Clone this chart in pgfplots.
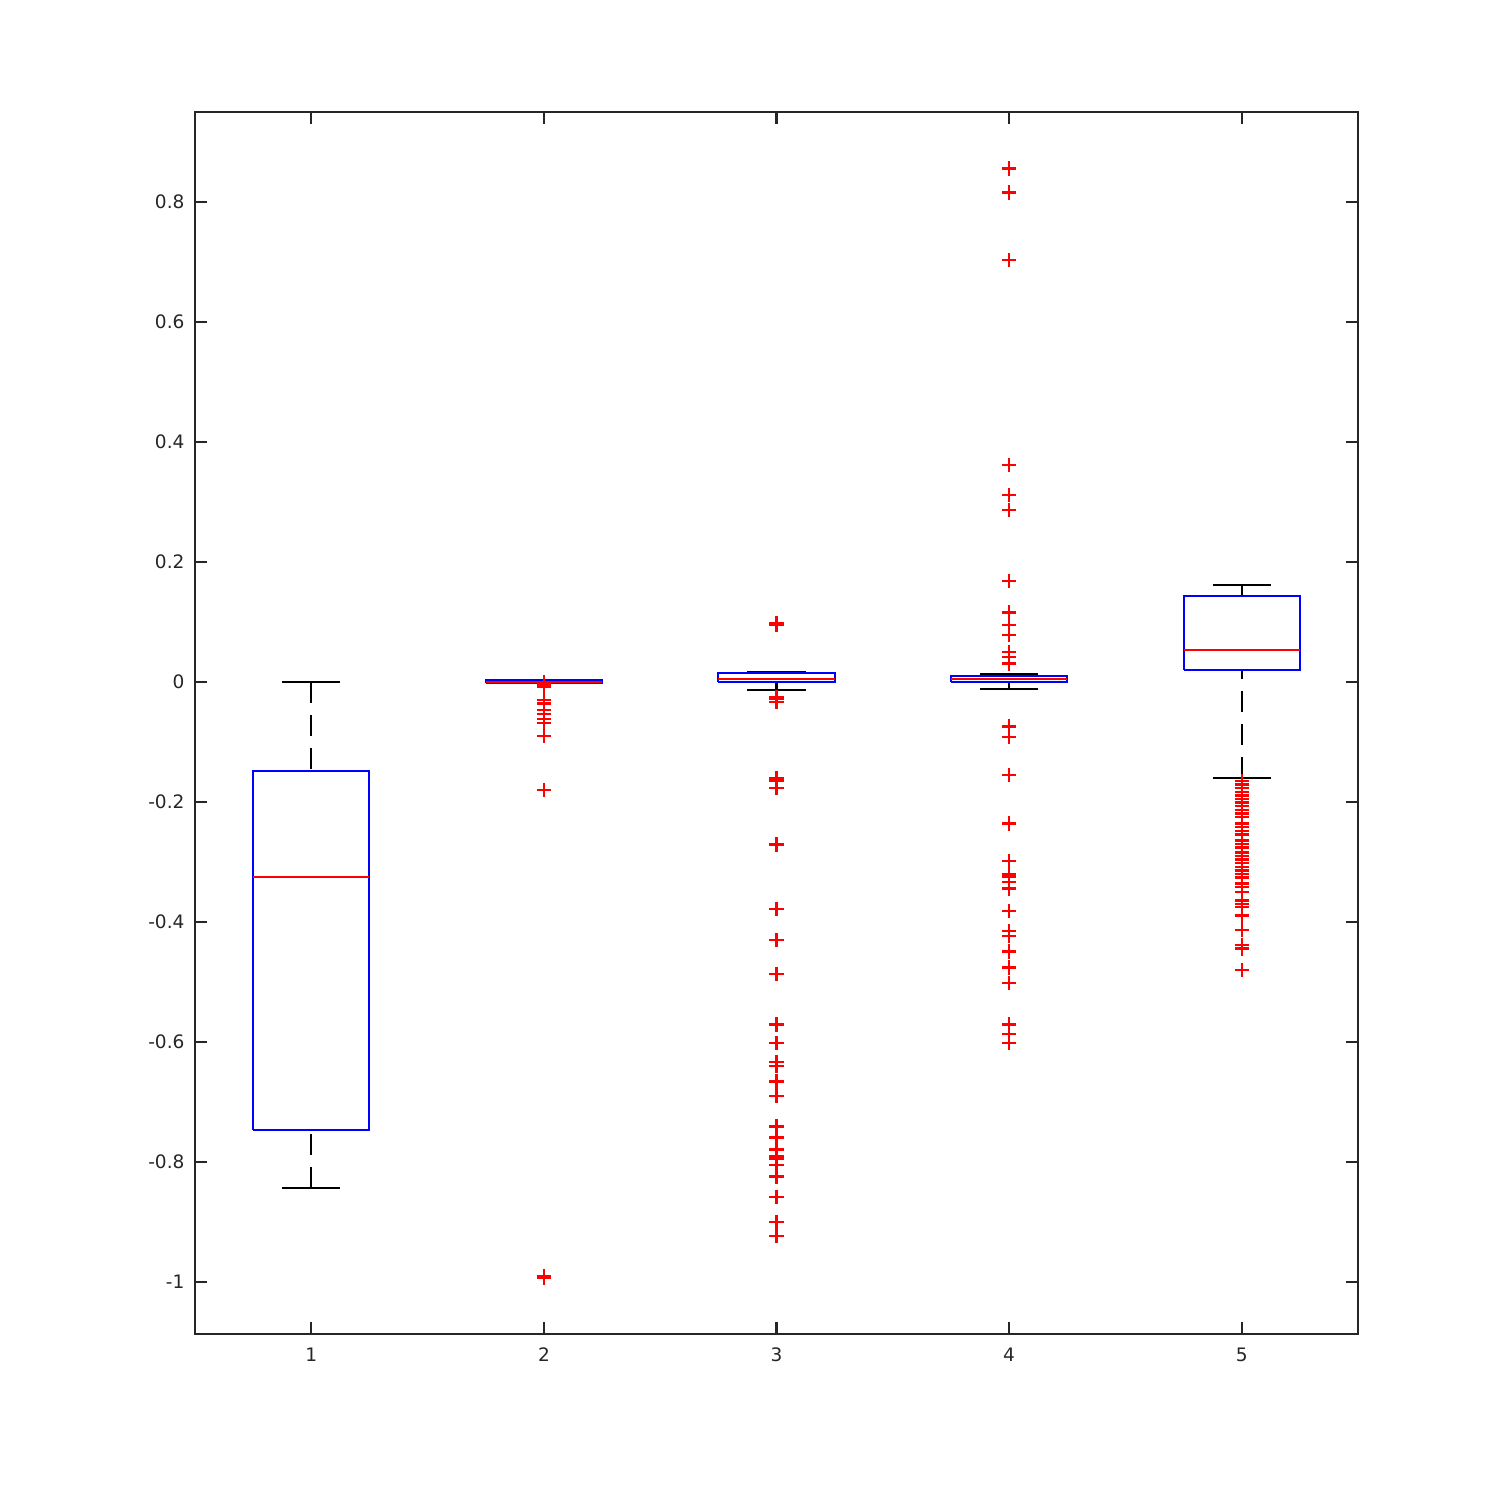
\documentclass[border=0pt]{standalone}
\usepackage{fontspec}
\setmainfont{DejaVu Sans}
\usepackage{pgfplots}
\pgfplotsset{compat=1.18}
\definecolor{axgray}{RGB}{38,38,38}
\definecolor{mblue}{RGB}{0,0,255}
\definecolor{mred}{RGB}{255,0,0}
\begin{document}
\begin{tikzpicture}
\path[use as bounding box] (-65bp,-55.33bp) rectangle (435bp,444.67bp);
\begin{axis}[
  at={(0,0)}, anchor=south west,
  scale only axis, width=387.67bp, height=407.33bp,
  xmin=0.5, xmax=5.5, ymin=-1.0867, ymax=0.95,
  xtick={1,2,3,4,5},
  ytick={-1,-0.8,-0.6,-0.4,-0.2,0,0.2,0.4,0.6,0.8},
  yticklabels={-1,-0.8,-0.6,-0.4,-0.2,0,0.2,0.4,0.6,0.8},
  xticklabels={1,2,3,4,5},
  tick align=inside, xtick pos=both, ytick pos=both,
  major tick length=4bp,
  axis line style={axgray, line width=0.7bp},
  every tick/.style={axgray, line width=0.7bp},
  ticklabel style={font=\fontsize{6.2}{7}\selectfont, text=axgray},
  xticklabel style={yshift=-1bp},
  unbounded coords=jump,
  clip=false,
]
% whiskers (dashed)
\addplot[black, line width=0.7bp, dash pattern=on 7bp off 4bp] coordinates {
(1,0) (1,-0.148) (nan,nan) (1,-0.843) (1,-0.747) (nan,nan)
(2,0.004) (2,0.0025) (nan,nan) (2,-0.002) (2,-0.001) (nan,nan)
(3,0.017) (3,0.0155) (nan,nan) (3,-0.013) (3,0.0005) (nan,nan)
(4,0.0128) (4,0.010) (nan,nan) (4,-0.012) (4,-0.0005) (nan,nan)
(5,0.162) (5,0.143) (nan,nan) (5,-0.16) (5,0.02)
};
% caps
\addplot[black, line width=0.7bp] coordinates {
(0.875,0) (1.125,0) (nan,nan) (0.875,-0.843) (1.125,-0.843) (nan,nan)
(1.875,0.004) (2.125,0.004) (nan,nan) (1.875,-0.002) (2.125,-0.002) (nan,nan)
(2.875,0.017) (3.125,0.017) (nan,nan) (2.875,-0.013) (3.125,-0.013) (nan,nan)
(3.875,0.0128) (4.125,0.0128) (nan,nan) (3.875,-0.012) (4.125,-0.012) (nan,nan)
(4.875,0.162) (5.125,0.162) (nan,nan) (4.875,-0.16) (5.125,-0.16)
};
% boxes
\addplot[mblue, line width=0.7bp] coordinates {
(0.75,-0.747) (1.25,-0.747) (1.25,-0.148) (0.75,-0.148) (0.75,-0.747) (nan,nan)
(1.75,-0.001) (2.25,-0.001) (2.25,0.0025) (1.75,0.0025) (1.75,-0.001) (nan,nan)
(2.75,0.0005) (3.25,0.0005) (3.25,0.0155) (2.75,0.0155) (2.75,0.0005) (nan,nan)
(3.75,-0.0005) (4.25,-0.0005) (4.25,0.010) (3.75,0.010) (3.75,-0.0005) (nan,nan)
(4.75,0.02) (5.25,0.02) (5.25,0.143) (4.75,0.143) (4.75,0.02)
};
% medians
\addplot[mred, line width=0.7bp] coordinates {
(0.75,-0.325) (1.25,-0.325) (nan,nan)
(1.75,0.0005) (2.25,0.0005) (nan,nan)
(2.75,0.005) (3.25,0.005) (nan,nan)
(3.75,0.0045) (4.25,0.0045) (nan,nan)
(4.75,0.053) (5.25,0.053)
};
% outliers
\addplot[only marks, mark=+, mark size=2.4bp, mred, mark options={line width=0.8bp}] table {
x y
2 0.0
2 -0.002
2 -0.005
2 -0.008
2 -0.030
2 -0.036
2 -0.047
2 -0.053
2 -0.062
2 -0.068
2 -0.090
2 -0.180
2 -0.990
2 -0.993
3 0.096
3 0.098
3 -0.025
3 -0.028
3 -0.033
3 -0.161
3 -0.164
3 -0.177
3 -0.271
3 -0.378
3 -0.430
3 -0.487
3 -0.571
3 -0.602
3 -0.633
3 -0.640
3 -0.666
3 -0.690
3 -0.741
3 -0.759
3 -0.779
3 -0.790
3 -0.794
3 -0.805
3 -0.824
3 -0.858
3 -0.900
3 -0.923
4 0.856
4 0.816
4 0.703
4 0.362
4 0.312
4 0.287
4 0.168
4 0.116
4 0.095
4 0.078
4 0.050
4 0.042
4 0.031
4 -0.0745
4 -0.092
4 -0.155
4 -0.236
4 -0.298
4 -0.320
4 -0.324
4 -0.333
4 -0.344
4 -0.382
4 -0.415
4 -0.423
4 -0.449
4 -0.476
4 -0.502
4 -0.571
4 -0.587
4 -0.602
5 -0.165
5 -0.171
5 -0.177
5 -0.183
5 -0.189
5 -0.195
5 -0.201
5 -0.207
5 -0.213
5 -0.219
5 -0.225
5 -0.236
5 -0.242
5 -0.248
5 -0.254
5 -0.264
5 -0.270
5 -0.276
5 -0.284
5 -0.290
5 -0.296
5 -0.302
5 -0.308
5 -0.314
5 -0.320
5 -0.326
5 -0.336
5 -0.342
5 -0.350
5 -0.364
5 -0.370
5 -0.375
5 -0.389
5 -0.413
5 -0.438
5 -0.444
5 -0.480
};
\end{axis}
\end{tikzpicture}
\end{document}
